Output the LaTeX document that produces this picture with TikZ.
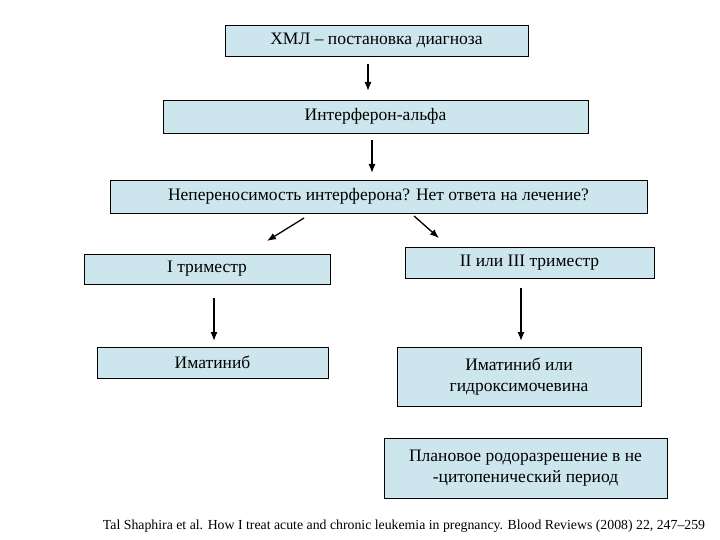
\documentclass[tikz,border=0pt]{standalone}
\usepackage{fontspec}
\usetikzlibrary{arrows.meta}
\setmainfont{Liberation Serif}
\begin{document}
\begin{tikzpicture}[x=1pt,y=-1pt,
 bx/.style={draw,fill={rgb,255:red,205;green,230;blue,238},line width=0.8pt,inner sep=0,align=center,font=\fontsize{17.5}{21}\selectfont},
 ar/.style={-{Latex[length=9pt,width=7pt]},line width=1.3pt}]
\useasboundingbox (0,0) rectangle (720,540);
\node[bx,minimum width=303,minimum height=31] (a) at (376.5,40.5) {ХМЛ – постановка диагноза};
\node[bx,minimum width=425,minimum height=33] (b) at (375.5,116.5) {Интерферон-альфа};
\node[bx,minimum width=537,minimum height=33] (c) at (378.5,196.5) {Непереносимость интерферона? Нет ответа на лечение?};
\node[bx,minimum width=246,minimum height=30] (d) at (207,269) {I триместр};
\node[bx,minimum width=249,minimum height=31] (e) at (529.5,262.5) {II или III триместр};
\node[bx,minimum width=231,minimum height=31] (f) at (212.5,362.5) {Иматиниб};
\node[bx,minimum width=244,minimum height=59] (g) at (519,376.5) {Иматиниб или\\гидроксимочевина};
\node[bx,minimum width=283,minimum height=60] (h) at (525.5,468) {Плановое родоразрешение в не\\-цитопенический период};
\node[font=\fontsize{13.8}{16}\selectfont] (cite) at (404,526) {Tal Shaphira et al. How I treat acute and chronic leukemia in pregnancy. Blood Reviews (2008) 22, 247–259};
\coordinate (a1) at (368,64); \coordinate (a2) at (368,91);
\coordinate (b1) at (372,140); \coordinate (b2) at (372,173);
\coordinate (c1) at (304,218); \coordinate (c2) at (267,241);
\coordinate (c3) at (414,216); \coordinate (c4) at (439,238);
\coordinate (d1) at (214,298); \coordinate (d2) at (214,341);
\coordinate (e1) at (521,288); \coordinate (e2) at (521,341);
\draw[ar] (a1)--(a2); \draw[ar] (b1)--(b2); \draw[ar] (c1)--(c2);
\draw[ar] (c3)--(c4); \draw[ar] (d1)--(d2); \draw[ar] (e1)--(e2);
\end{tikzpicture}
\end{document}
